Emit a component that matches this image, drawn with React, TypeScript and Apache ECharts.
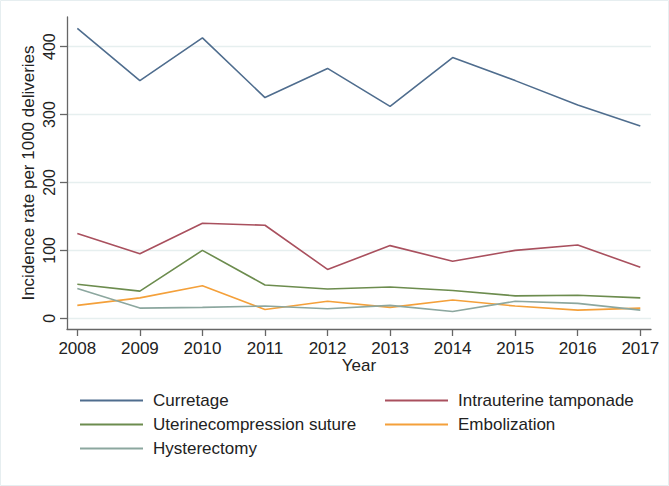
import React, { useEffect, useRef } from "react";
import * as echarts from "echarts";

const years = [2008, 2009, 2010, 2011, 2012, 2013, 2014, 2015, 2016, 2017];
const yTicks = [0, 100, 200, 300, 400];

const curretage = [427, 350, 413, 325, 368, 312, 384, 350, 314, 283];
const tamponade = [125, 95, 140, 137, 72, 107, 84, 100, 108, 75];
const compression = [50, 40, 100, 49, 43, 46, 41, 33, 34, 30];
const embolization = [19, 30, 48, 13, 25, 16, 27, 18, 12, 15];
const hysterectomy = [44, 15, 16, 18, 14, 19, 10, 25, 22, 12];

const seriesNames = [
  "Curretage",
  "Intrauterine tamponade",
  "Uterinecompression suture",
  "Embolization",
  "Hysterectomy",
];
const seriesData = [curretage, tamponade, compression, embolization, hysterectomy];
const seriesColors = ["#4f6d8e", "#a9505e", "#6c8c4e", "#f4a03a", "#8ca79f"];

export default function App() {
  const ref = useRef<HTMLDivElement>(null);
  useEffect(() => {
    if (!ref.current) return;
    const chart = echarts.init(ref.current, null, { renderer: "svg" });
    const font = "Liberation Sans, Arial, sans-serif";
    const legendBase = {
      orient: "vertical",
      top: 387,
      icon: "rect",
      itemWidth: 63,
      itemHeight: 2,
      itemGap: 7,
      textStyle: { fontSize: 17, color: "#222", fontFamily: font, padding: [0, 0, 0, 5] },
    };
    chart.setOption({
      animation: false,
      backgroundColor: "#ffffff",
      textStyle: { fontFamily: font },
      graphic: [
        {
          type: "rect",
          shape: { x: 0.5, y: 0.5, width: 668, height: 485 },
          style: { fill: "none", stroke: "#e6eef0", lineWidth: 1 },
          silent: true,
        },
      ],
      grid: { left: 67, right: 18, top: 17, bottom: 157 },
      xAxis: {
        type: "value",
        min: 2007.835,
        max: 2017.171,
        name: "Year",
        nameLocation: "middle",
        nameGap: 28,
        nameMoveOverlap: false,
        nameTextStyle: { fontSize: 17, color: "#222", fontFamily: font },
        axisLine: { show: true, onZero: false, lineStyle: { color: "#666", width: 1.3 } },
        axisTick: { show: true, length: 7, customValues: years, lineStyle: { color: "#666", width: 1.3 } },
        axisLabel: {
          customValues: years,
          fontSize: 17,
          color: "#222",
          margin: 11,
          fontFamily: font,
          formatter: (v: number) => String(Math.round(v)),
        },
        splitLine: { show: false },
      },
      yAxis: {
        type: "value",
        min: -15.8,
        max: 443.7,
        name: "Incidence rate per 1000 deliveries",
        nameLocation: "middle",
        nameGap: 30,
        nameMoveOverlap: false,
        nameTextStyle: { fontSize: 17, color: "#222", fontFamily: font },
        axisLine: { show: true, onZero: false, lineStyle: { color: "#666", width: 1.3 } },
        axisTick: { show: true, length: 7, customValues: yTicks, lineStyle: { color: "#666", width: 1.3 } },
        axisLabel: {
          customValues: yTicks,
          fontSize: 16,
          color: "#222",
          rotate: 90,
          margin: 10,
          fontFamily: font,
        },
        splitLine: { show: true, lineStyle: { color: "#e6efef", width: 1.3 } },
      },
      legend: [
        {
          ...legendBase,
          left: 75,
          data: [seriesNames[0], seriesNames[2], seriesNames[4]],
        },
        {
          ...legendBase,
          left: 380,
          data: [seriesNames[1], seriesNames[3]],
        },
      ],
      series: seriesNames.map((name, i) => ({
        name,
        type: "line",
        symbol: "none",
        data: years.map((y, j) => [y, seriesData[i][j]]),
        lineStyle: { color: seriesColors[i], width: 1.6 },
        itemStyle: { color: seriesColors[i] },
      })),
    });
    return () => chart.dispose();
  }, []);
  return (
    <div
      ref={ref}
      style={{ position: "absolute", left: 0, top: 0, width: 669, height: 486 }}
    />
  );
}
